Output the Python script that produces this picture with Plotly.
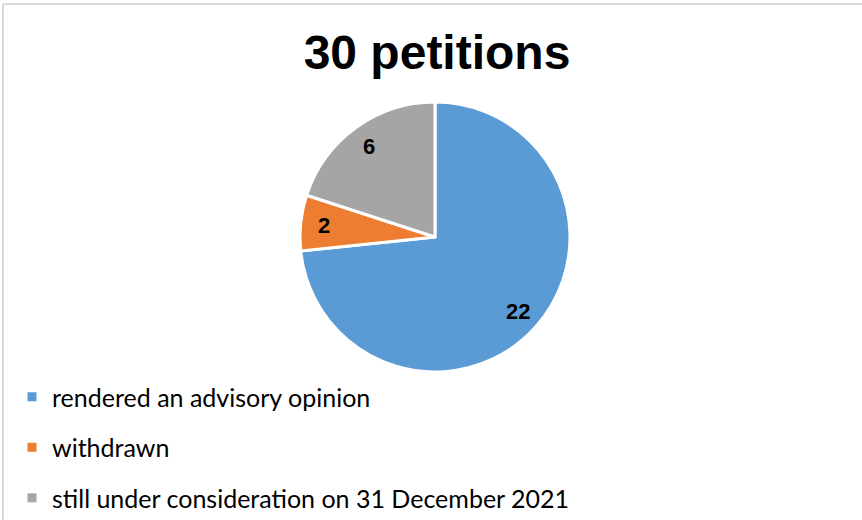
import math
import plotly.graph_objects as go

W, H = 862, 520

categories = ["rendered an advisory opinion", "withdrawn", "still under consideration on 31 December 2021"]
values = [22, 2, 6]
colors = ["#5B9BD5", "#ED7D31", "#A5A5A5"]
title_text = "30 petitions"

fig = go.Figure()

cx, cy, r = 435, 237, 135
dom_x = [(cx - r) / W, (cx + r) / W]
dom_y = [(H - cy - r) / H, (H - cy + r) / H]
fig.add_trace(go.Pie(
    labels=categories,
    values=values,
    marker=dict(colors=colors, line=dict(color="white", width=3)),
    sort=False,
    direction="clockwise",
    rotation=0,
    textinfo="none",
    domain=dict(x=dom_x, y=dom_y),
    showlegend=False,
    hoverinfo="label+value",
))

# value labels placed at each slice's mid-angle (derived from the data)
total = sum(values)
annotations = []
start = 0.0
for v in values:
    mid = (start + v / 2) / total * 2 * math.pi
    start += v
    f = 0.83
    px = cx + f * r * math.sin(mid)
    py = cy - f * r * math.cos(mid)
    annotations.append(dict(
        x=px / W, y=1 - py / H, xref="paper", yref="paper",
        text="<b>%d</b>" % v, showarrow=False,
        font=dict(family="Liberation Sans, Arial", size=22, color="black"),
        xanchor="center", yanchor="middle",
    ))

# legend entries (one per category)
for cat, col in zip(categories, colors):
    fig.add_trace(go.Scatter(
        x=[None], y=[None], mode="markers", name=cat,
        marker=dict(symbol="square", size=9, color=col),
        legendgroup=cat, showlegend=True,
    ))

fig.update_layout(
    width=W, height=H,
    margin=dict(l=0, r=0, t=0, b=0, autoexpand=False),
    paper_bgcolor="white",
    plot_bgcolor="white",
    xaxis=dict(visible=False),
    yaxis=dict(visible=False),
    title=dict(
        text="<b>" + title_text + "</b>",
        x=437 / W, xanchor="center",
        y=1 - 52 / H, yanchor="middle", yref="container",
        font=dict(family="Liberation Sans, Arial", size=48, color="black"),
    ),
    legend=dict(
        xref="container", yref="container",
        x=12 / W, xanchor="left",
        y=1 - 374 / H, yanchor="top",
        font=dict(family="Lato, Open Sans", size=25, color="black"),
        tracegroupgap=15,
        bgcolor="rgba(0,0,0,0)",
        itemclick=False,
    ),
    annotations=annotations,
    shapes=[
        dict(type="line", xref="paper", yref="paper", x0=3 / W, x1=1, y0=1 - 4 / H, y1=1 - 4 / H,
             line=dict(color="#D9D9D9", width=2)),
        dict(type="line", xref="paper", yref="paper", x0=3 / W, x1=3 / W, y0=0, y1=1 - 4 / H,
             line=dict(color="#D9D9D9", width=2)),
    ],
)

fig.write_html("out.html")
